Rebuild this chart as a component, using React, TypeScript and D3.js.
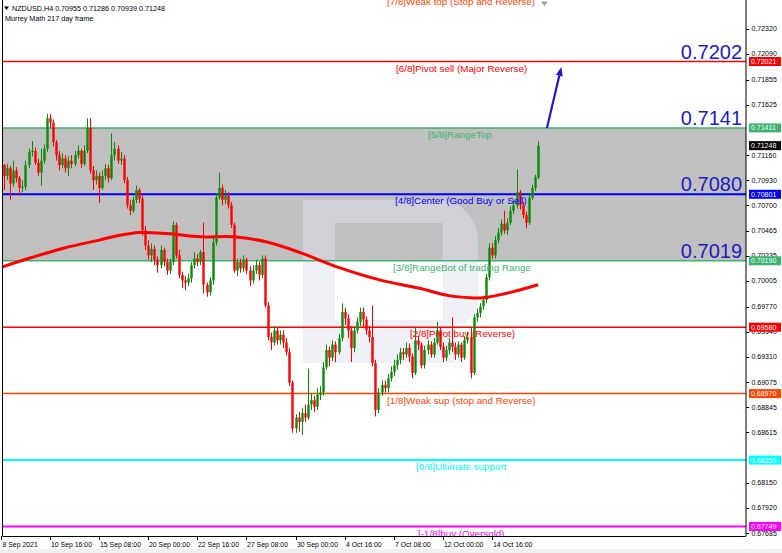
import React from 'react';
import * as d3 from 'd3';

const W = 782;
const H = 553;

// ---- candle data (NZDUSD H4) ----
const opens = [
  0.7100,0.7107,0.7097,0.7104,0.7090,0.7102,0.7095,0.7086,0.7087,0.7107,
  0.7119,0.7120,0.7109,0.7100,0.7111,0.7122,0.7150,0.7146,0.7128,0.7116,
  0.7107,0.7113,0.7104,0.7111,0.7108,0.7116,0.7120,0.7108,0.7120,0.7141,
  0.7102,0.7093,0.7097,0.7086,0.7097,0.7104,0.7095,0.7116,0.7122,0.7111,
  0.7113,0.7093,0.7070,0.7065,0.7075,0.7084,0.7076,0.7047,0.7033,0.7024,
  0.7030,0.7020,0.7015,0.7029,0.7018,0.7010,0.7018,0.7052,0.7024,0.7006,
  0.7001,0.6999,0.7003,0.7015,0.7021,0.7018,0.7027,0.6997,0.6990,0.7001,
  0.7036,0.7077,0.7086,0.7075,0.7079,0.7070,0.7052,0.7010,0.7018,0.7012,
  0.7020,0.7010,0.7001,0.7010,0.7015,0.7006,0.7021,0.6978,0.6949,0.6944,
  0.6955,0.6946,0.6951,0.6944,0.6935,0.6907,0.6865,0.6875,0.6871,0.6879,
  0.6875,0.6887,0.6891,0.6885,0.6896,0.6898,0.6921,0.6937,0.6930,0.6942,
  0.6935,0.6948,0.6972,0.6966,0.6955,0.6939,0.6955,0.6963,0.6972,0.6965,
  0.6955,0.6949,0.6925,0.6882,0.6898,0.6905,0.6902,0.6911,0.6917,0.6923,
  0.6928,0.6935,0.6933,0.6939,0.6931,0.6916,0.6946,0.6942,0.6923,0.6937,
  0.6942,0.6933,0.6944,0.6955,0.6940,0.6930,0.6937,0.6944,0.6940,0.6933,
  0.6942,0.6930,0.6946,0.6949,0.6916,0.6967,0.6971,0.6977,0.6983,0.7004,
  0.7031,0.7024,0.7038,0.7045,0.7053,0.7047,0.7054,0.7065,0.7070,0.7082,
  0.7070,0.7061,0.7054,0.7077,0.7086,0.70955,
];
const highs = [
  0.7111,0.7108,0.7108,0.7106,0.7111,0.7105,0.7097,0.7093,0.7111,0.7122,
  0.7129,0.7123,0.7113,0.7122,0.7126,0.7154,0.7154,0.7149,0.7130,0.7120,
  0.7118,0.7116,0.7115,0.7116,0.7120,0.7125,0.7122,0.7125,0.7150,0.7150,
  0.7106,0.7102,0.7100,0.7102,0.7108,0.7107,0.7136,0.7128,0.7125,0.7119,
  0.7116,0.7096,0.7075,0.7078,0.7088,0.7086,0.7079,0.7051,0.7038,0.7035,
  0.7033,0.7023,0.7033,0.7031,0.7021,0.7021,0.7055,0.7054,0.7029,0.7009,
  0.7005,0.7007,0.7018,0.7027,0.7025,0.7029,0.7054,0.6999,0.7004,0.7040,
  0.7081,0.7100,0.7089,0.7084,0.7082,0.7073,0.7054,0.7021,0.7021,0.7024,
  0.7022,0.7014,0.7015,0.7020,0.7018,0.7024,0.7024,0.6981,0.6953,0.6959,
  0.6958,0.6955,0.6955,0.6948,0.6939,0.6909,0.6878,0.6880,0.6884,0.6887,
  0.6920,0.6897,0.6895,0.6902,0.6904,0.6926,0.6942,0.6940,0.6946,0.6945,
  0.6952,0.6980,0.6976,0.6970,0.6959,0.6959,0.6967,0.6976,0.6976,0.6968,
  0.6959,0.6978,0.6928,0.6902,0.6909,0.6909,0.6915,0.6922,0.6928,0.6933,
  0.6939,0.6939,0.6944,0.6943,0.6934,0.6958,0.6950,0.6944,0.6941,0.6946,
  0.6945,0.6948,0.6963,0.6958,0.6944,0.6941,0.6948,0.6967,0.6944,0.6945,
  0.6944,0.6950,0.6954,0.6958,0.6970,0.6975,0.6980,0.6987,0.7007,0.7035,
  0.7035,0.7042,0.7049,0.7057,0.7065,0.7058,0.7069,0.7075,0.7103,0.7084,
  0.7073,0.7064,0.7080,0.7089,0.7098,0.71286,
];
const lows = [
  0.7097,0.7084,0.7093,0.7075,0.7087,0.7091,0.7079,0.7082,0.7084,0.7104,
  0.7115,0.7107,0.7097,0.7088,0.7108,0.7119,0.7141,0.7124,0.7111,0.7102,
  0.7104,0.7100,0.7097,0.7104,0.7106,0.7113,0.7104,0.7106,0.7118,0.7099,
  0.7084,0.7089,0.7072,0.7084,0.7093,0.7091,0.7093,0.7111,0.7108,0.7107,
  0.7090,0.7067,0.7061,0.7063,0.7072,0.7072,0.7042,0.7029,0.7020,0.7018,
  0.7015,0.7008,0.7012,0.7014,0.7006,0.7007,0.7015,0.7021,0.7003,0.6994,
  0.6992,0.6996,0.6999,0.7012,0.7014,0.7015,0.6989,0.6986,0.6987,0.6997,
  0.7033,0.7075,0.7070,0.7071,0.7067,0.7049,0.7008,0.7005,0.7008,0.7009,
  0.7007,0.6996,0.6998,0.7007,0.7001,0.7003,0.6976,0.6946,0.6937,0.6941,
  0.6942,0.6942,0.6939,0.6932,0.6904,0.6861,0.6861,0.6862,0.6859,0.6871,
  0.6873,0.6882,0.6880,0.6882,0.6891,0.6895,0.6919,0.6922,0.6927,0.6926,
  0.6933,0.6945,0.6960,0.6948,0.6926,0.6935,0.6952,0.6959,0.6957,0.6951,
  0.6944,0.6922,0.6876,0.6879,0.6895,0.6898,0.6898,0.6908,0.6913,0.6919,
  0.6924,0.6928,0.6930,0.6926,0.6911,0.6914,0.6937,0.6920,0.6920,0.6933,
  0.6930,0.6930,0.6942,0.6937,0.6926,0.6927,0.6933,0.6935,0.6928,0.6930,
  0.6926,0.6928,0.6943,0.6911,0.6914,0.6963,0.6967,0.6974,0.6980,0.7001,
  0.7021,0.7021,0.7035,0.7042,0.7044,0.7043,0.7052,0.7062,0.7067,0.7066,
  0.7058,0.7049,0.7052,0.7075,0.7083,0.70939,
];
const closes = [
  0.7107,0.7097,0.7104,0.7090,0.7102,0.7095,0.7086,0.7087,0.7107,0.7119,
  0.7120,0.7109,0.7100,0.7111,0.7122,0.7150,0.7146,0.7128,0.7116,0.7107,
  0.7113,0.7104,0.7111,0.7108,0.7116,0.7120,0.7108,0.7120,0.7141,0.7102,
  0.7093,0.7097,0.7086,0.7097,0.7104,0.7095,0.7116,0.7122,0.7111,0.7113,
  0.7093,0.7070,0.7065,0.7075,0.7084,0.7076,0.7047,0.7033,0.7024,0.7030,
  0.7020,0.7015,0.7029,0.7018,0.7010,0.7018,0.7052,0.7024,0.7006,0.7001,
  0.6999,0.7003,0.7015,0.7021,0.7018,0.7027,0.6997,0.6990,0.7001,0.7036,
  0.7077,0.7086,0.7075,0.7079,0.7070,0.7052,0.7010,0.7018,0.7012,0.7020,
  0.7010,0.7001,0.7010,0.7015,0.7006,0.7021,0.6978,0.6949,0.6944,0.6955,
  0.6946,0.6951,0.6944,0.6935,0.6907,0.6865,0.6875,0.6871,0.6879,0.6875,
  0.6887,0.6891,0.6885,0.6896,0.6898,0.6921,0.6937,0.6930,0.6942,0.6935,
  0.6948,0.6972,0.6966,0.6955,0.6939,0.6955,0.6963,0.6972,0.6965,0.6955,
  0.6949,0.6925,0.6882,0.6898,0.6905,0.6902,0.6911,0.6917,0.6923,0.6928,
  0.6935,0.6933,0.6939,0.6931,0.6916,0.6946,0.6942,0.6923,0.6937,0.6942,
  0.6933,0.6944,0.6955,0.6940,0.6930,0.6937,0.6944,0.6940,0.6933,0.6942,
  0.6930,0.6946,0.6949,0.6916,0.6967,0.6971,0.6977,0.6983,0.7004,0.7031,
  0.7024,0.7038,0.7045,0.7053,0.7047,0.7054,0.7065,0.7070,0.7082,0.7070,
  0.7061,0.7054,0.7077,0.7086,0.7096,0.71248,
];

// 217-period moving average, read at bar indexes
const maIndex = [0, 10, 21, 32, 38, 45, 54, 65, 76, 87, 98, 110, 124, 136, 146, 153, 157, 166, 175];
const maValue = [0.7013, 0.7022, 0.7031, 0.7038, 0.7042, 0.7045, 0.7044, 0.7041, 0.7041, 0.7036,
  0.7026, 0.7013, 0.7001, 0.6994, 0.6987, 0.6985, 0.6985, 0.6990, 0.6997];

// Murrey math levels
const levelPrices = [0.72632, 0.72021, 0.71411, 0.70801, 0.7019, 0.6958, 0.6897, 0.68359, 0.67749];
const levelNames = [
  '[7/8]Weak top (Stop and Reverse)',
  '[6/8]Pivot sell (Major Reverse)',
  '[5/8]RangeTop',
  '[4/8]Center (Good Buy or Sell)',
  '[3/8]RangeBot of trading Range',
  '[2/8]Pivot buy (Reverse)',
  '[1/8]Weak sup (stop and Reverse)',
  '[0/8]Ultimate support',
  '[-1/8]buy (Oversold)',
];
const levelColors = ['#ff4500', '#ff0000', '#3cb371', '#0000ff', '#3cb371', '#ff0000', '#ff4500', '#00ffff', '#ff00ff'];
const levelWidths = [1.5, 1.5, 1.5, 2, 1.5, 1.5, 1.5, 2, 2];
const levelLabelX = [387, 396, 428, 395, 393, 410, 387, 416, 418];

const bigLabels = ['0.7202', '0.7141', '0.7080', '0.7019'];
const bigLabelPrices = [0.72021, 0.71411, 0.70801, 0.7019];

// visible price-scale ticks (those fully hidden under level boxes omitted)
const yTicks = [0.7232, 0.7209, 0.71855, 0.71625, 0.7116, 0.7093, 0.707, 0.70465, 0.70235,
  0.70005, 0.6977, 0.6954, 0.6931, 0.69075, 0.68845, 0.68615, 0.6815, 0.6792, 0.67685];

const xTickIndex = [0, 16, 32, 48, 64, 80, 96, 112, 128, 144, 160];
const xTickLabels = ['8 Sep 2021', '10 Sep 16:00', '15 Sep 08:00', '20 Sep 00:00', '22 Sep 16:00',
  '27 Sep 08:00', '30 Sep 00:00', '4 Oct 16:00', '7 Oct 08:00', '12 Oct 00:00', '14 Oct 16:00'];

const arrowFrom = { i: 177.9, p: 0.71411 };
const arrowTo = { i: 182.6, p: 0.7197 };

const lastPrice = 0.71248;

const FONT = '"Liberation Sans", Arial, sans-serif';

export default function App() {
  const plotL = 2.5;
  const plotR = 746;
  const plotB = 536;
  const x = d3.scaleLinear().domain([0, 160]).range([0.9, 492]);
  const y = d3.scaleLinear().domain([0.67749, 0.72021]).range([526.5, 61.5]);

  const maLine = d3
    .line<number>()
    .x((_, k) => x(maIndex[k]))
    .y((v) => y(v))
    .curve(d3.curveCatmullRom.alpha(0.5));

  const green = '#0a8c0a';
  const red = '#ff0000';

  const ax = x(arrowFrom.i), ay = y(arrowFrom.p);
  const bx = x(arrowTo.i), by = y(arrowTo.p);
  const ang = Math.atan2(by - ay, bx - ax);
  const headL = 9, headW = 3.5;
  const hx = bx - headL * Math.cos(ang), hy = by - headL * Math.sin(ang);
  const px = -Math.sin(ang) * headW, py = Math.cos(ang) * headW;

  return (
    <svg
      width={W}
      height={H}
      viewBox={`0 0 ${W} ${H}`}
      style={{ position: 'absolute', left: 0, top: 0, background: '#fff', fontFamily: FONT }}
    >
      <defs>
        <clipPath id="plot">
          <rect x={plotL} y={0} width={plotR - plotL} height={plotB} />
        </clipPath>
      </defs>
      <rect x={0} y={0} width={W} height={H} fill="#fff" />
      <rect x={0} y={549} width={W} height={4} fill="#f0f0f0" />

      <g clipPath="url(#plot)">
        {/* trading range band */}
        <rect x={plotL} y={y(levelPrices[2])} width={plotR - plotL} height={y(levelPrices[4]) - y(levelPrices[2])} fill="#c0c0c0" />
        {/* watermark */}
        <path
          d="M303,200 H438 A40,40 0 0 1 478,240 V300 A25,25 0 0 1 455,325 V363 H303 Z M335,223 V320 H443 V223 Z"
          fill="#dde2ec"
          fillOpacity={0.5}
          fillRule="evenodd"
        />
        {/* levels */}
        {levelPrices.map((p, k) => (
          <line key={'lv' + k} x1={plotL} x2={plotR} y1={y(p)} y2={y(p)} stroke={levelColors[k]} strokeWidth={levelWidths[k]} />
        ))}
        {/* candles */}
        {opens.map((o, i) => {
          const c = closes[i];
          const up = c >= o;
          const col = up ? green : red;
          const cx = Math.round(x(i)) + 0.5;
          const top = y(Math.max(o, c));
          const bot = y(Math.min(o, c));
          return (
            <g key={'c' + i}>
              <line x1={cx} x2={cx} y1={y(highs[i])} y2={y(lows[i])} stroke={col} strokeWidth={1} />
              <rect x={cx - 1.2} y={top} width={2.4} height={Math.max(1, bot - top)} fill={col} />
            </g>
          );
        })}
        {/* moving average */}
        <path d={maLine(maValue) || ''} fill="none" stroke="#ff0000" strokeWidth={3} />
        {/* level texts */}
        {levelNames.map((t, k) => (
          <text key={'lt' + k} x={levelLabelX[k]} y={y(levelPrices[k]) + 10} fontSize={9.8} fill={levelColors[k]}>
            {t}
          </text>
        ))}
        {/* arrow */}
        <line x1={ax} y1={ay} x2={hx} y2={hy} stroke="#1a1acc" strokeWidth={2.2} />
        <polygon points={`${bx},${by} ${hx + px},${hy + py} ${hx - px},${hy - py}`} fill="#1a1acc" />
        {/* big labels */}
        {bigLabels.map((t, k) => (
          <text key={'bl' + k} x={742} y={y(bigLabelPrices[k]) - 3} fontSize={20} textAnchor="end" fill="#1c1cc4">
            {t}
          </text>
        ))}
      </g>

      {/* frame */}
      <line x1={plotL} x2={plotL} y1={0} y2={plotB} stroke="#000" strokeWidth={1} />
      <line x1={plotR} x2={plotR} y1={0} y2={plotB} stroke="#000" strokeWidth={1} />
      <line x1={plotL} x2={plotR} y1={plotB + 0.5} y2={plotB + 0.5} stroke="#000" strokeWidth={1} />

      {/* y axis ticks */}
      {yTicks.map((t, k) => (
        <g key={'yt' + k}>
          <line x1={plotR} x2={plotR + 3} y1={Math.round(y(t)) + 0.5} y2={Math.round(y(t)) + 0.5} stroke="#000" />
          <text x={751.5} y={y(t)} dy="0.35em" fontSize={7} fill="#000">
            {t.toFixed(5)}
          </text>
        </g>
      ))}

      {/* level value boxes */}
      {levelPrices.slice(1).map((p, k) => (
        <g key={'lb' + k}>
          <rect x={749} y={y(p) - 4.5} width={32} height={9} fill={levelColors[k + 1]} />
          <text x={751} y={y(p)} dy="0.35em" fontSize={7} fill="#fff">
            {p.toFixed(5)}
          </text>
        </g>
      ))}
      <rect x={749} y={y(lastPrice) - 4.5} width={32} height={9} fill="#000" />
      <text x={751} y={y(lastPrice)} dy="0.35em" fontSize={7} fill="#fff">
        {lastPrice.toFixed(5)}
      </text>

      {/* x axis */}
      {xTickIndex.map((i, k) => {
        const tx = Math.round(x(i)) + 0.5;
        return (
          <g key={'xt' + k}>
            <line x1={tx} x2={tx} y1={plotB} y2={plotB + 4} stroke="#000" />
            <text x={k === 0 ? 2.5 : tx + 0.5} y={547} fontSize={6.9} fill="#000">
              {xTickLabels[k]}
            </text>
          </g>
        );
      })}

      {/* header */}
      <path d="M4,6.5 L9,6.5 L6.5,10 Z" fill="#000" />
      <text x={12} y={10.5} fontSize={7.2} fill="#000">
        NZDUSD,H4  0.70955 0.71286 0.70939 0.71248
      </text>
      <text x={5} y={21} fontSize={7.2} fill="#000">
        Murrey Math 217 day frame
      </text>
      {/* chart shift marker */}
      <path d="M541,1.5 L548,1.5 L544.5,6 Z" fill="#a0a0a0" />
    </svg>
  );
}
